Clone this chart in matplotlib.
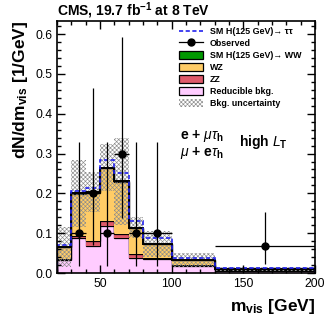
#!/usr/bin/env python3

"""Visible mass distribution, high L_T category"""

import matplotlib
matplotlib.use('Agg')
import matplotlib.pyplot as plt
from matplotlib.lines import Line2D
from matplotlib.patches import Patch
from matplotlib.ticker import MultipleLocator
import numpy as np

# bin edges [GeV]
edges = [20, 30, 40, 50, 60, 70, 80, 100, 130, 200]
# backgrounds, dN/dm [1/GeV]
reducible = [0.032, 0.088, 0.068, 0.117, 0.089, 0.038, 0.035, 0.017, 0.005]
zz = [0.004, 0.006, 0.012, 0.013, 0.009, 0.009, 0.004, 0.002, 0.002]
wz = [0.029, 0.104, 0.122, 0.133, 0.130, 0.066, 0.033, 0.013, 0.003]
h_ww = [0.001, 0.002, 0.002, 0.002, 0.002, 0.001, 0.001, 0.001, 0.000]
h_tt = [0.005, 0.006, 0.010, 0.018, 0.020, 0.017, 0.015, 0.005, 0.002]
bkg_unc = [0.050, 0.084, 0.050, 0.060, 0.110, 0.026, 0.033, 0.018, 0.006]

# observed
obs_x = [35, 45, 55, 65, 75, 90, 165]
obs_y = [0.1, 0.2, 0.1, 0.3, 0.1, 0.1, 0.067]
obs_xerr = [5, 5, 5, 5, 5, 10, 35]
obs_lo = [0.083, 0.129, 0.083, 0.163, 0.083, 0.083, 0.045]
obs_hi = [0.230, 0.264, 0.230, 0.292, 0.230, 0.230, 0.086]

C_RED = '#ffccff'
C_ZZ = '#de5a6a'
C_WZ = '#ffcc66'
C_WW = '#009900'
C_UNC = '#8c8c8c'

plt.rcParams['font.family'] = ['Liberation Sans', 'DejaVu Sans']
plt.rcParams['mathtext.fontset'] = 'custom'
plt.rcParams['mathtext.rm'] = 'Liberation Sans'
plt.rcParams['mathtext.it'] = 'Liberation Sans:italic'
plt.rcParams['mathtext.bf'] = 'Liberation Sans:bold'
plt.rcParams['hatch.linewidth'] = 0.45
plt.rcParams['hatch.color'] = C_UNC

fig = plt.figure(figsize=(3.32, 3.22), dpi=100)
ax = fig.add_axes([0.172, 0.152, 0.777, 0.783])

edges_a = np.array(edges, dtype=float)
widths = np.diff(edges_a)
lvl0 = np.zeros(len(reducible))
lvl1 = lvl0 + np.array(reducible)
lvl2 = lvl1 + np.array(zz)
lvl3 = lvl2 + np.array(wz)
lvl4 = lvl3 + np.array(h_ww)
lvl5 = lvl4 + np.array(h_tt)

# stacked backgrounds
for lo, hi, col in [(lvl0, lvl1, C_RED), (lvl1, lvl2, C_ZZ),
                    (lvl2, lvl3, C_WZ), (lvl3, lvl4, C_WW)]:
    ax.stairs(hi, edges_a, baseline=lo, fill=True, color=col, lw=0)
    ax.stairs(hi, edges_a, color='k', lw=0.9)

# background uncertainty
unc = np.array(bkg_unc)
ax.bar(edges_a[:-1], 2 * unc, bottom=lvl4 - unc, width=widths, align='edge',
       fill=False, hatch='xxxxxxxx', lw=0, edgecolor=C_UNC)

ax.stairs(lvl4, edges_a, color='k', lw=1.4)
ax.stairs(lvl5, edges_a, color='#2222ee', lw=1.2, ls=(0, (2.5, 1.5)))

ax.errorbar(obs_x, obs_y, xerr=obs_xerr, yerr=[obs_lo, obs_hi], fmt='o',
            color='k', ms=5, elinewidth=0.9, capsize=0, zorder=5)

ax.set_xlim(20, 200)
ax.set_ylim(0, 0.633)
ax.xaxis.set_major_locator(MultipleLocator(50))
ax.xaxis.set_minor_locator(MultipleLocator(10))
ax.yaxis.set_major_locator(MultipleLocator(0.1))
ax.yaxis.set_minor_locator(MultipleLocator(0.02))
ax.tick_params(which='both', direction='in', top=True, right=True, labelsize=8.7, width=1)
ax.tick_params(which='major', length=6)
ax.tick_params(which='minor', length=3)
ax.yaxis.set_major_formatter(matplotlib.ticker.FormatStrFormatter('%.1f'))
for sp in ax.spines.values():
    sp.set_linewidth(1.2)

ax.set_xlabel(r'$\mathbf{m_{vis}}$ [GeV]', fontsize=12.5, fontweight='bold',
              loc='right', labelpad=5)
ax.set_ylabel(r'dN/d$\mathbf{m_{vis}}$ [1/GeV]', fontsize=12.5, fontweight='bold',
              loc='top', labelpad=4)
ax.set_title(r'CMS, 19.7 fb$^{\mathbf{-1}}$ at 8 TeV', fontsize=10, fontweight='bold',
             loc='left', pad=3)

ax.text(0.477, 0.545, r'$\mathbf{e}$ + $\mu\tau_\mathbf{h}$', transform=ax.transAxes,
        fontsize=10, fontweight='bold', va='center')
ax.text(0.477, 0.475, r'$\mu$ + $\mathbf{e}\tau_\mathbf{h}$', transform=ax.transAxes,
        fontsize=10, fontweight='bold', va='center')
ax.text(0.705, 0.52, r'high $\mathbf{\it{L}}_\mathbf{T}$', transform=ax.transAxes,
        fontsize=10, fontweight='bold', va='center')

handles = [
    Line2D([], [], color='#2222ee', lw=1.2, ls=(0, (2.5, 1.5))),
    Line2D([], [], color='k', lw=0.9, marker='o', ms=5),
    Patch(facecolor=C_WW, edgecolor='k', lw=0.9),
    Patch(facecolor=C_WZ, edgecolor='k', lw=0.9),
    Patch(facecolor=C_ZZ, edgecolor='k', lw=0.9),
    Patch(facecolor=C_RED, edgecolor='k', lw=0.9),
    Patch(facecolor='white', edgecolor=C_UNC, hatch='xxxxxxxx', lw=0),
]
labels = ['SM H(125 GeV)→ ττ', 'Observed', 'SM H(125 GeV)→ WW', 'WZ', 'ZZ',
          'Reducible bkg.', 'Bkg. uncertainty']
leg = ax.legend(handles, labels, loc='upper left', bbox_to_anchor=(0.46, 0.99),
                frameon=False, fontsize=6.4, handlelength=2.7, handleheight=1.0,
                handletextpad=0.7, labelspacing=0.33, borderaxespad=0)
for t in leg.get_texts():
    t.set_fontweight('bold')

plt.savefig('out.png', dpi=100)
